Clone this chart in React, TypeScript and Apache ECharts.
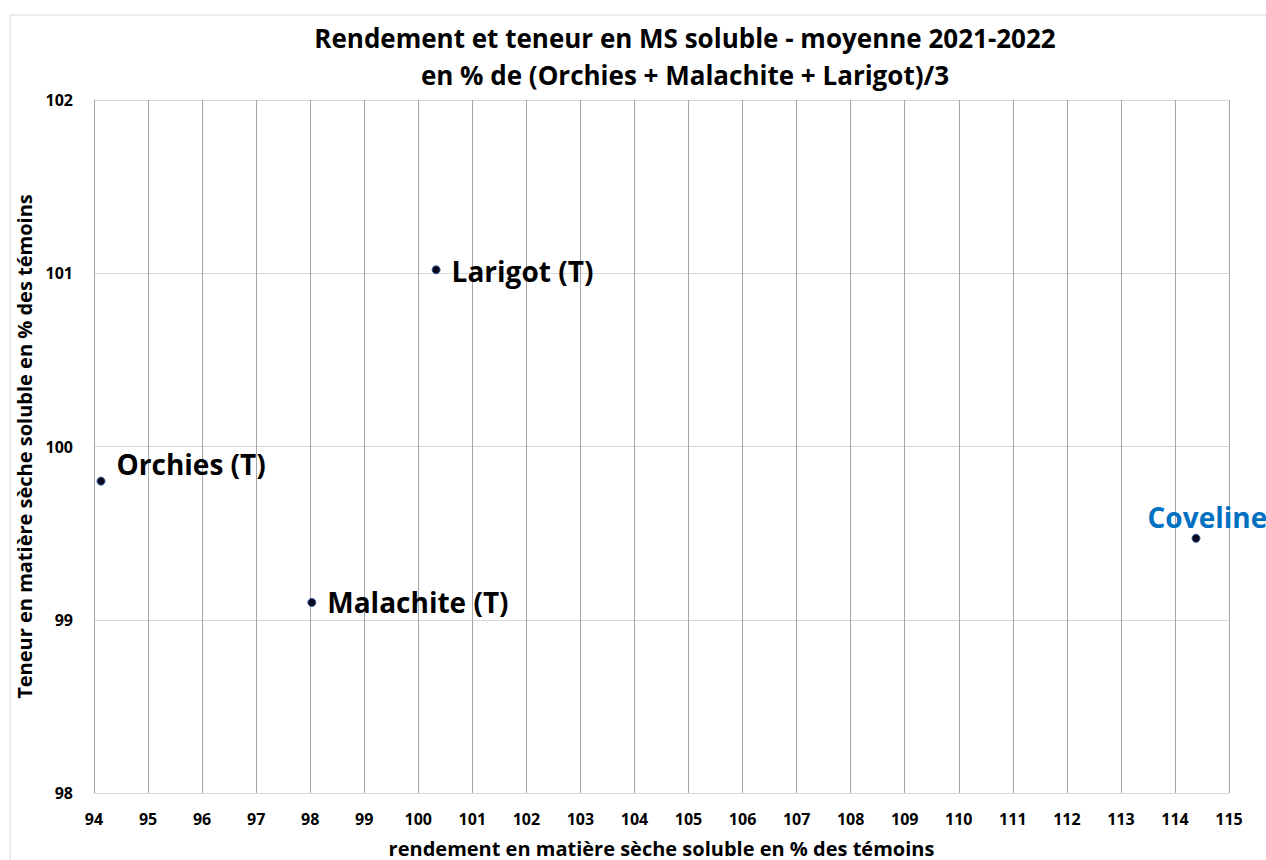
import React, { useEffect, useRef } from "react";
import * as echarts from "echarts";

const names = ["Orchies (T)", "Larigot (T)", "Malachite (T)", "Coveline"];
const xValues = [94.13, 100.33, 98.03, 114.39];
const yValues = [99.8, 101.02, 99.1, 99.47];
const labelColors = ["#000000", "#000000", "#000000", "#0070C0"];
const labelPositions: number[][] = [[20, -13], [20, 6], [20, 4], [-44, -17]];

const FONT = "'Open Sans', Lato, sans-serif";

export default function App() {
  const ref = useRef<HTMLDivElement>(null);
  useEffect(() => {
    if (!ref.current) return;
    const chart = echarts.init(ref.current, undefined, { renderer: "svg" });
    const data = names.map((n, i) => ({
      name: n,
      value: [xValues[i], yValues[i]],
      label: {
        show: true,
        formatter: n,
        position: labelPositions[i],
        align: "left",
        verticalAlign: "middle",
        color: labelColors[i],
        textBorderWidth: 0,
        textBorderColor: "transparent",
        opacity: 1,
        fontSize: 28,
        fontWeight: "bold",
        fontFamily: FONT,
      },
    }));
    chart.setOption({
      animation: false,
      backgroundColor: "#ffffff",
      title: {
        text: "Rendement et teneur en MS soluble - moyenne 2021-2022\nen % de (Orchies + Malachite + Larigot)/3",
        left: 680,
        top: 14,
        textAlign: "center",
        textStyle: {
          fontFamily: FONT,
          fontSize: 26,
          fontWeight: "bold",
          color: "#000000",
          lineHeight: 37,
        },
      },
      graphic: [
        {
          type: "rect",
          shape: { x: 10, y: 15, width: 1300, height: 1000 },
          style: { fill: "none", stroke: "#d9d9d9", lineWidth: 1 },
          silent: true,
          z: -10,
        },
      ],
      grid: { left: 94, top: 100, right: 37, bottom: 67, containLabel: false, outerBoundsMode: "none" },
      xAxis: {
        type: "value",
        min: 94,
        max: 115,
        interval: 1,
        name: "rendement en matière sèche soluble en % des témoins",
        nameLocation: "middle",
        nameGap: 45,
        nameTextStyle: { fontFamily: FONT, fontSize: 20, fontWeight: "bold", color: "#000000" },
        axisLine: { show: true, lineStyle: { color: "#d9d9d9" } },
        axisTick: { show: false },
        axisLabel: { margin: 18, fontFamily: FONT, fontSize: 16, fontWeight: "bold", color: "#000000" },
        splitLine: { show: true, lineStyle: { color: "#a6a6a6", width: 1 } },
      },
      yAxis: {
        type: "value",
        min: 98,
        max: 102,
        interval: 1,
        name: "Teneur en matière sèche soluble en % des témoins",
        nameLocation: "middle",
        nameGap: 50,
        nameTextStyle: { fontFamily: FONT, fontSize: 20, fontWeight: "bold", color: "#000000" },
        axisLine: { show: true, lineStyle: { color: "#a6a6a6" } },
        axisTick: { show: false },
        axisLabel: { margin: 21, fontFamily: FONT, fontSize: 16, fontWeight: "bold", color: "#000000" },
        splitLine: { show: true, lineStyle: { color: "#d9d9d9", width: 1 } },
      },
      series: [
        {
          type: "scatter",
          symbol: "circle",
          symbolSize: 8,
          itemStyle: { color: "#0a0a1e", borderColor: "#2f5597", borderWidth: 1, opacity: 1 },
          label: { show: true, color: "#000000", textBorderWidth: 0 },
          data,
        },
      ],
    });
    return () => chart.dispose();
  }, []);
  return (
    <div
      ref={ref}
      style={{ position: "absolute", left: 0, top: 0, width: 1266, height: 860 }}
    />
  );
}
